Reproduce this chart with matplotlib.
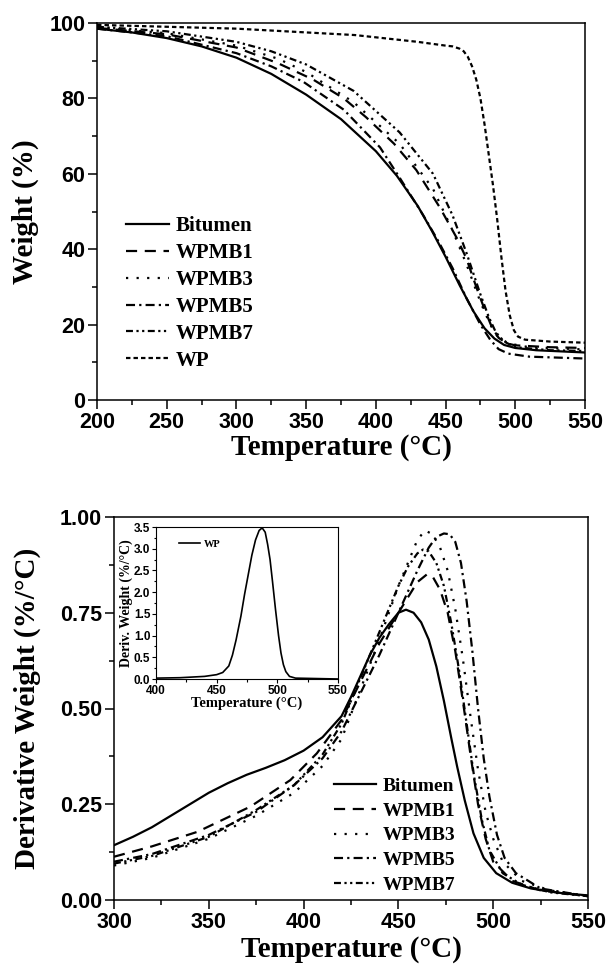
import numpy as np
import matplotlib
matplotlib.use("Agg")
import matplotlib.pyplot as plt
from matplotlib.ticker import MultipleLocator

plt.rcParams["lines.scale_dashes"] = False
SANS = "Liberation Sans"
SERIF = "Liberation Serif"

# ---- TGA (weight %) ----
t_bit = [200, 225, 250, 275, 300, 325, 350, 375, 400, 415, 430, 440, 450, 460, 470, 478, 485, 492, 500, 515, 550]
w_bit = [98.5, 97.5, 96, 93.8, 90.8, 86.5, 81, 74.5, 66, 59.5, 51.5, 45, 38, 30.5, 23.5, 19, 16.3, 14.6, 13.8, 13.2, 12.6]

t_b1 = [200, 250, 300, 330, 355, 377, 393, 413, 429, 446, 458, 465, 472, 478, 483, 488, 494, 500, 525, 550]
w_b1 = [98.7, 97, 93.5, 89.3, 85, 80, 75, 68, 61, 51, 43, 37.5, 30, 24, 19.5, 16.5, 15, 14.5, 14, 13.8]

t_b3 = [200, 250, 300, 330, 350, 384, 417, 441, 455, 465, 475, 482, 487, 495, 510, 550]
w_b3 = [98.8, 97.3, 94, 90.5, 87, 79, 68, 56, 45, 36, 26, 20, 17, 15, 14, 13.4]

t_b5 = [200, 250, 300, 325, 348, 377, 403, 417, 434, 445, 455, 465, 475, 482, 488, 495, 510, 550]
w_b5 = [98.5, 96.5, 92, 88.5, 84.4, 77, 67, 59, 49, 42, 35, 27, 20, 16, 13.5, 12.3, 11.5, 11]

t_b7 = [200, 250, 300, 325, 350, 384, 417, 441, 455, 465, 475, 481, 486, 492, 500, 525, 550]
w_b7 = [99, 97.8, 95, 92.5, 89, 82, 71, 60, 49, 39, 28, 22, 18, 15.5, 14, 13.2, 13]

t_wp = [200, 250, 300, 350, 385, 430, 450, 455, 460, 463, 466, 469, 472, 475, 478, 481, 484, 487,
        490, 493, 496, 499, 502, 507, 525, 550]
w_wp = [99.5, 99, 98.5, 97.5, 96.8, 95, 94, 93.8, 93.2, 92.5, 91, 88.5, 85, 80, 73, 65, 57, 48,
        38, 29, 22.5, 18.5, 16.8, 16, 15.5, 15.2]

# ---- DTG (%/°C) ----
d_t_bit = [300, 310, 320, 330, 340, 350, 360, 370, 380, 390, 400, 410, 420, 425, 430, 435, 440, 445,
           450, 454, 458, 462, 466, 470, 474, 478, 481, 485, 489.6, 495, 501.6, 510, 520, 536, 550]
d_bit = [0.143, 0.165, 0.19, 0.22, 0.25, 0.28, 0.305, 0.327, 0.345, 0.365, 0.39, 0.425, 0.48, 0.53,
         0.585, 0.64, 0.685, 0.72, 0.75, 0.758, 0.75, 0.725, 0.68, 0.61, 0.52, 0.42, 0.348, 0.26,
         0.174, 0.11, 0.07, 0.045, 0.03, 0.018, 0.012]

d_t_b1 = [300, 320, 344, 372, 393, 407, 420, 430, 440, 450, 455, 460, 465, 468, 472, 476, 480, 484,
          488, 492, 496, 500, 510, 525, 550]
d_b1 = [0.113, 0.14, 0.178, 0.244, 0.313, 0.383, 0.47, 0.57, 0.67, 0.75, 0.79, 0.83, 0.85, 0.845,
        0.81, 0.75, 0.65, 0.52, 0.38, 0.25, 0.16, 0.1, 0.05, 0.025, 0.01]

d_t_b3 = [300, 320, 350, 375, 395, 410, 420, 430, 440, 450, 455, 460, 464, 468, 472, 476, 480, 484,
          488, 492, 496, 500, 505, 515, 530, 550]
d_b3 = [0.09, 0.11, 0.16, 0.22, 0.28, 0.35, 0.42, 0.55, 0.68, 0.82, 0.88, 0.94, 0.965, 0.955, 0.92,
        0.86, 0.76, 0.63, 0.48, 0.34, 0.23, 0.16, 0.1, 0.05, 0.025, 0.01]

d_t_b5 = [300, 320, 350, 375, 395, 410, 420, 430, 440, 450, 460, 466, 470, 474, 477, 480, 483, 486,
          489, 492, 495, 498, 502, 506, 512, 525, 550]
d_b5 = [0.1, 0.12, 0.17, 0.23, 0.3, 0.37, 0.44, 0.54, 0.64, 0.75, 0.86, 0.92, 0.948, 0.957, 0.955,
        0.935, 0.88, 0.78, 0.65, 0.5, 0.37, 0.27, 0.17, 0.11, 0.07, 0.03, 0.01]

d_t_b7 = [300, 320, 350, 375, 395, 410, 420, 430, 440, 450, 455, 460, 463, 466, 470, 474, 478, 482,
          486, 490, 494, 498, 505, 515, 530, 550]
d_b7 = [0.095, 0.115, 0.165, 0.235, 0.3, 0.38, 0.46, 0.58, 0.7, 0.82, 0.87, 0.905, 0.915, 0.91,
        0.88, 0.82, 0.72, 0.6, 0.46, 0.32, 0.21, 0.13, 0.07, 0.04, 0.02, 0.01]

# inset: WP
i_t_wp = [400, 420, 440, 450, 455, 460, 463, 466, 470, 473, 476, 479, 482, 485, 487.5, 490, 492,
          494, 496, 498.5, 501, 503, 505, 507, 510, 515, 550]
i_wp = [0.02, 0.03, 0.06, 0.1, 0.15, 0.3, 0.55, 0.9, 1.45, 1.95, 2.4, 2.85, 3.2, 3.42, 3.48, 3.38,
        3.1, 2.75, 2.25, 1.6, 1.0, 0.6, 0.33, 0.17, 0.06, 0.02, 0.0]

dashes = {
    "Bitumen": None,
    "WPMB1": (8, 5.5),
    "WPMB3": (1.6, 6),
    "WPMB5": (6.5, 3, 1.6, 3),
    "WPMB7": (5, 2.5, 1.6, 2.5, 1.6, 2.5),
    "WP": (3.2, 2.2),
}
LW = 1.6


def draw(ax, x, y, name, lw=LW):
    kw = dict(color="black", lw=lw, label=name)
    if dashes[name] is not None:
        kw["dashes"] = dashes[name]
    ax.plot(x, y, **kw)


def style_axes(ax, size=15.5, major=6.5, minor=3.5, width=1.1):
    for s in ax.spines.values():
        s.set_linewidth(width)
    ax.tick_params(which="both", direction="out", top=False, right=False, width=width)
    ax.tick_params(which="major", length=major, pad=2, labelsize=size)
    ax.tick_params(which="minor", length=minor)
    for lab in ax.get_xticklabels() + ax.get_yticklabels():
        lab.set_fontfamily(SANS)
        lab.set_fontweight("bold")


fig = plt.figure(figsize=(6.09, 9.73), dpi=100)

# ---------- top panel ----------
ax1 = fig.add_axes([97 / 609, 1 - 400 / 973, 488 / 609, 377 / 973])
draw(ax1, t_bit, w_bit, "Bitumen")
draw(ax1, t_b1, w_b1, "WPMB1")
draw(ax1, t_b3, w_b3, "WPMB3")
draw(ax1, t_b5, w_b5, "WPMB5")
draw(ax1, t_b7, w_b7, "WPMB7")
draw(ax1, t_wp, w_wp, "WP")
ax1.set_xlim(200, 550)
ax1.set_ylim(0, 100)
ax1.xaxis.set_major_locator(MultipleLocator(50))
ax1.xaxis.set_minor_locator(MultipleLocator(25))
ax1.yaxis.set_major_locator(MultipleLocator(20))
ax1.yaxis.set_minor_locator(MultipleLocator(10))
style_axes(ax1)
ax1.set_xlabel("Temperature (°C)", fontfamily=SERIF, fontweight="bold", fontsize=21)
ax1.set_ylabel("Weight (%)", fontfamily=SERIF, fontweight="bold", fontsize=21)
ax1.xaxis.set_label_coords(0.5, -0.09)
ax1.yaxis.set_label_coords(-0.118, 0.5)
ax1.legend(loc="upper left", bbox_to_anchor=(0.039, 0.515), frameon=False,
           borderpad=0, labelspacing=0.33, handlelength=2.05, handletextpad=0.3,
           prop=dict(family=SERIF, weight="bold", size=15))

# ---------- bottom panel ----------
ax2 = fig.add_axes([114 / 609, 1 - 900 / 973, 474 / 609, 383 / 973])
draw(ax2, d_t_bit, d_bit, "Bitumen")
draw(ax2, d_t_b1, d_b1, "WPMB1")
draw(ax2, d_t_b3, d_b3, "WPMB3")
draw(ax2, d_t_b5, d_b5, "WPMB5")
draw(ax2, d_t_b7, d_b7, "WPMB7")
ax2.set_xlim(300, 550)
ax2.set_ylim(0, 1.0)
ax2.xaxis.set_major_locator(MultipleLocator(50))
ax2.xaxis.set_minor_locator(MultipleLocator(25))
ax2.yaxis.set_major_locator(MultipleLocator(0.25))
ax2.yaxis.set_minor_locator(MultipleLocator(0.125))
ax2.yaxis.set_major_formatter(plt.FormatStrFormatter("%.2f"))
style_axes(ax2)
ax2.set_xlabel("Temperature (°C)", fontfamily=SERIF, fontweight="bold", fontsize=21)
ax2.set_ylabel("Derivative Weight (%/°C)", fontfamily=SERIF, fontweight="bold", fontsize=21)
ax2.xaxis.set_label_coords(0.5, -0.095)
ax2.yaxis.set_label_coords(-0.155, 0.5)
ax2.legend(loc="upper left", bbox_to_anchor=(0.443, 0.345), frameon=False,
           borderpad=0, labelspacing=0.36, handlelength=2.2, handletextpad=0.3,
           prop=dict(family=SERIF, weight="bold", size=14))

# ---------- inset ----------
ax3 = fig.add_axes([156 / 609, 1 - 679 / 973, 182 / 609, 152 / 973])
ax3.plot(i_t_wp, i_wp, color="black", lw=1.2, label="WP")
ax3.set_xlim(400, 550)
ax3.set_ylim(0, 3.5)
ax3.xaxis.set_major_locator(MultipleLocator(50))
ax3.xaxis.set_minor_locator(MultipleLocator(25))
ax3.yaxis.set_major_locator(MultipleLocator(0.5))
ax3.yaxis.set_minor_locator(MultipleLocator(0.25))
ax3.yaxis.set_major_formatter(plt.FormatStrFormatter("%.1f"))
style_axes(ax3, size=8.5, major=3, minor=1.8, width=0.8)
ax3.tick_params(which="major", pad=1)
ax3.set_xlabel("Temperature (°C)", fontfamily=SERIF, fontweight="bold", fontsize=10.5, labelpad=0)
ax3.set_ylabel("Deriv. Weight (%/°C)", fontfamily=SERIF, fontweight="bold", fontsize=10, labelpad=1)
ax3.legend(loc="upper left", bbox_to_anchor=(0.1, 0.95), frameon=False,
           borderpad=0, handlelength=2.0, handletextpad=0.3,
           prop=dict(family=SERIF, weight="bold", size=7.5))

fig.savefig("out.png", dpi=100)
